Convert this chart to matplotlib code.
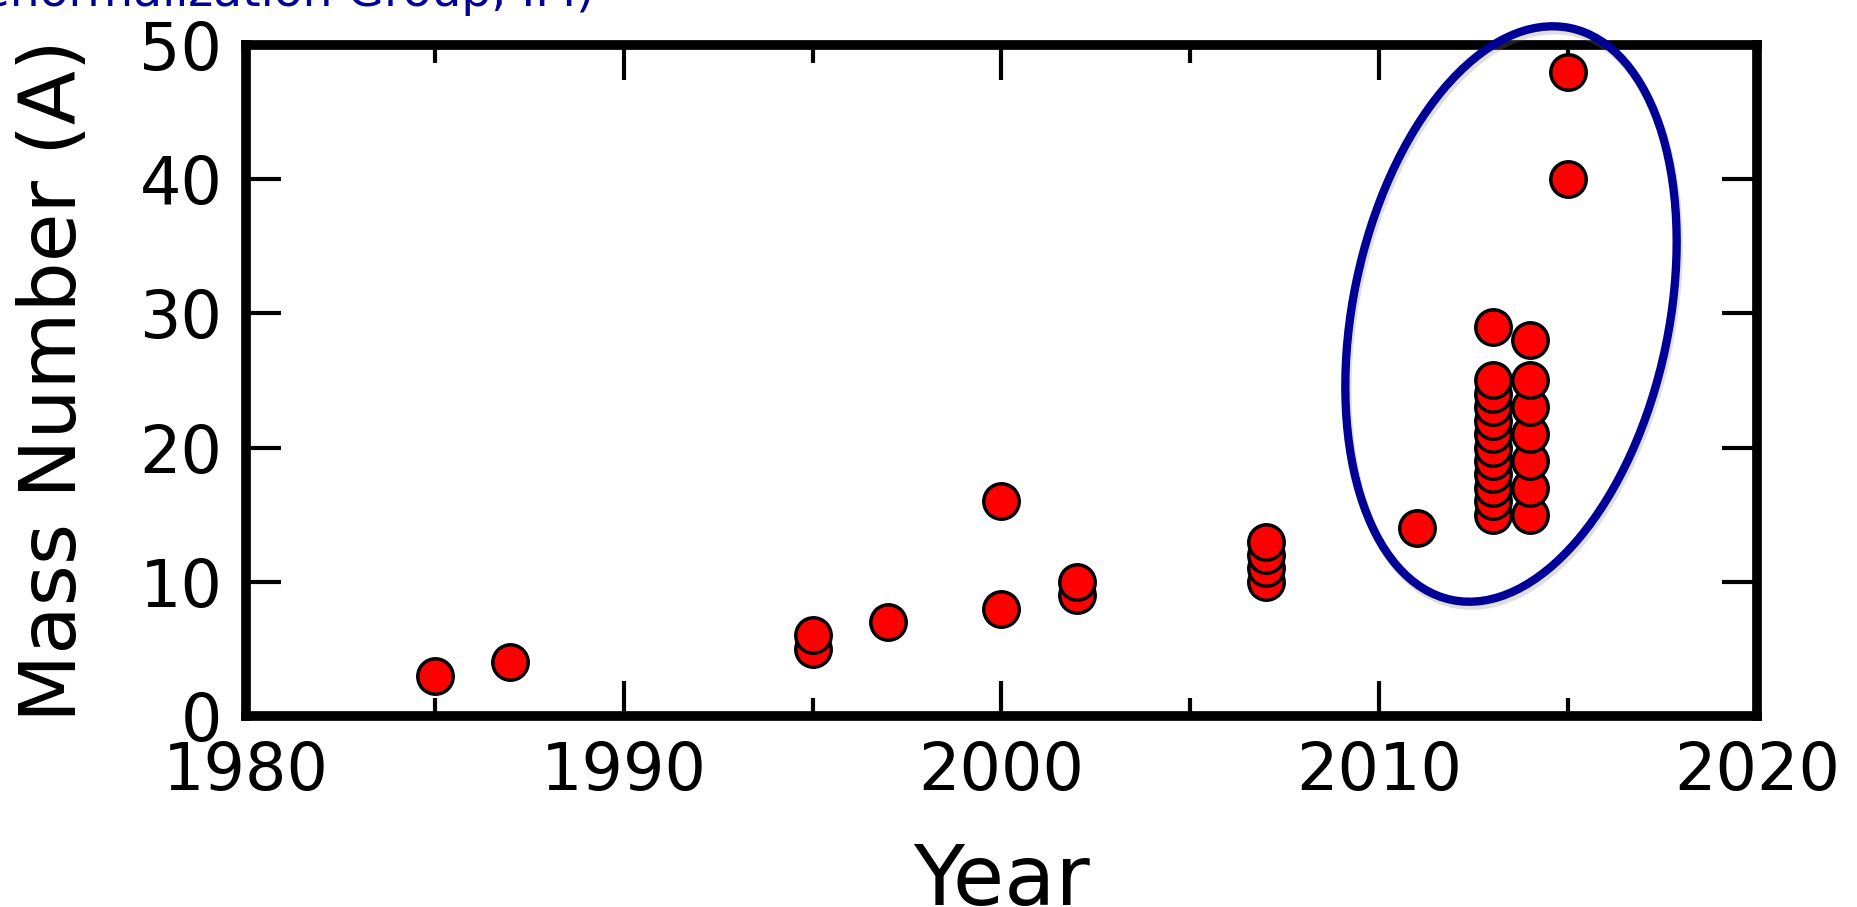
import numpy as np
import matplotlib.pyplot as plt
from matplotlib.patches import Ellipse
from matplotlib.ticker import MultipleLocator

# Year of calculation and mass number of the nucleus
years = [1985, 1987,
         1995, 1995, 1997,
         2000, 2000, 2002, 2002,
         2007, 2007, 2007, 2007,
         2011,
         2013, 2013, 2013, 2013, 2013, 2013, 2013, 2013, 2013, 2013, 2013, 2013,
         2014, 2014, 2014, 2014, 2014, 2014, 2014,
         2015, 2015]
mass_numbers = [3, 4,
                5, 6, 7,
                8, 16, 9, 10,
                10, 11, 12, 13,
                14,
                15, 16, 17, 18, 19, 20, 21, 22, 23, 24, 25, 29,
                15, 17, 19, 21, 23, 25, 28,
                40, 48]

x_ticks = [1980, 1990, 2000, 2010, 2020]
y_ticks = [0, 10, 20, 30, 40, 50]

fig = plt.figure(figsize=(18.58, 9.07), dpi=100)
ax = fig.add_axes([0.1324, 0.2106, 0.8132, 0.7398])

# draw in ascending order so the higher points sit on top of the stack
for x, y in zip(years, mass_numbers):
    ax.plot(x, y, 'o', color='red', markeredgecolor='black',
            markersize=25.5, markeredgewidth=2.5, clip_on=False, zorder=2)

ax.set_xlim(1980, 2020)
ax.set_ylim(0, 50)
ax.set_xticks(x_ticks)
ax.set_yticks(y_ticks)
ax.xaxis.set_minor_locator(MultipleLocator(5))

for side in ax.spines.values():
    side.set_linewidth(7)

ax.tick_params(which='both', direction='in', top=True, right=True, width=3)
ax.tick_params(which='major', length=25, pad=17, labelsize=47)
ax.tick_params(which='minor', length=13)

ax.set_xlabel('Year', fontsize=60, labelpad=27)
ax.set_ylabel('Mass Number (A)', fontsize=57, labelpad=34)

# ring around the recent heavy-nucleus results, placed in figure inches
ring_xy = (15.11, 5.93)
shadow = Ellipse((ring_xy[0] + 0.02, ring_xy[1] - 0.04), 3.16, 5.84, angle=-11.7,
                 fill=False, edgecolor='gray', linewidth=6, alpha=0.25,
                 transform=fig.dpi_scale_trans, zorder=4)
ring = Ellipse(ring_xy, 3.16, 5.84, angle=-11.7, fill=False,
               edgecolor='#000096', linewidth=6,
               transform=fig.dpi_scale_trans, zorder=5)
fig.patches.extend([shadow, ring])

fig.text(594 / 1858, 1 - 6 / 907, '(Similarity Renormalization Group, IM)',
         ha='right', va='baseline', fontsize=34, color='#000096')

plt.savefig('out.png', dpi=100)
